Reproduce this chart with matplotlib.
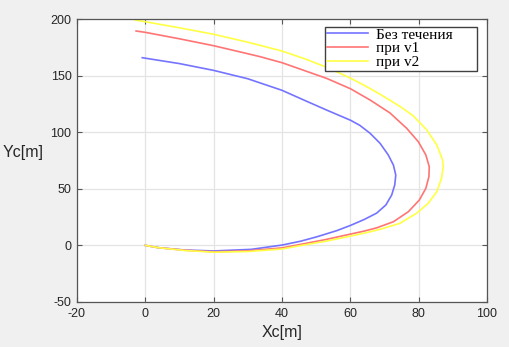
import numpy as np
import matplotlib
matplotlib.use("Agg")
import matplotlib.pyplot as plt
from matplotlib.patches import Rectangle

plt.rcParams["axes.unicode_minus"] = False

# trajectories (x, y in metres)
x_none = [0, 3.8, 11.6, 20, 31, 40, 45.3, 50.2, 56, 60, 64, 67.7, 70.4, 72.1, 73.0,
          73.3, 72.6, 71.1, 68.7, 65.8, 62.8, 60.1, 53.1, 46.7, 40, 30, 20, 10, -0.9]
y_none = [0, -2.0, -4.1, -4.9, -3.5, 0.3, 3.6, 7.6, 13.0, 17.6, 22.8, 28.5, 35.7, 44.5,
          53.4, 62.2, 71.0, 79.9, 90.2, 99.0, 106.0, 110.5, 119.5, 128.0, 137.0, 147.2,
          154.6, 160.6, 165.8]

x_v1 = [0, 3.8, 11.6, 20, 30, 40, 45.3, 53, 60.2, 64, 67.7, 72.6, 77.0, 80.2, 82.1,
        83.0, 83.1, 82.1, 79.9, 76.5, 71.6, 65.8, 60.1, 53.1, 46.7, 40, 33.6, 30, 20,
        10, 0, -2.7]
y_v1 = [0, -2.0, -4.3, -5.6, -4.8, -2.2, 0.8, 5.3, 10.1, 12.6, 15.5, 20.9, 29.8, 40.1,
        50.4, 60.7, 69.5, 79.9, 91.6, 103.4, 117.0, 128.4, 138.3, 147.5, 154.3, 161.4,
        166.7, 169.3, 176.4, 182.5, 188.2, 189.4]

x_v2 = [0, 3.8, 11.6, 20, 30, 40, 45.3, 53, 60.2, 64, 68.7, 74.5, 79.4, 82.8, 85.3,
        86.7, 87.2, 87.0, 85.3, 82.4, 78.4, 75, 72, 68, 64, 60, 56, 52.5, 46.7, 40,
        30, 20, 10, 0, -3.0]
y_v2 = [0, -2.0, -4.5, -6.0, -5.4, -3.2, -0.2, 3.8, 8.3, 10.8, 14.2, 19.5, 28.4, 37.2,
        47.4, 59.3, 69.5, 75.4, 88.7, 101.9, 114.5, 121.8, 127.5, 134.8, 141.5, 147.8,
        153.4, 158.0, 164.8, 171.7, 179.5, 186.5, 192.2, 197.6, 199.1]

labels = ["Без течения", "при v1", "при v2"]
colors = ["#7474ff", "#ff7474", "#ffff45"]

x_ticks = [-20, 0, 20, 40, 60, 80, 100]
y_ticks = [-50, 0, 50, 100, 150, 200]

W, H = 510, 347
fig = plt.figure(figsize=(W / 100, H / 100), dpi=100, facecolor="#f0f0f0")
ax = fig.add_axes([77 / W, 45 / H, 410 / W, 283 / H])
ax.set_facecolor("white")

for xs, ys, c, lab in zip([x_none, x_v1, x_v2], [y_none, y_v1, y_v2], colors, labels):
    ax.plot(xs, ys, color=c, lw=1.2, label=lab)

ax.set_xlim(-20, 100)
ax.set_ylim(-50, 200)
ax.set_xticks(x_ticks)
ax.set_yticks(y_ticks)
ax.grid(True, color="#e4e4e4", lw=0.9)
ax.set_axisbelow(True)
ax.tick_params(direction="in", length=3.5, top=True, right=True, colors="#555555",
               labelcolor="#262626", labelsize=9, pad=4)
for lbl in ax.get_xticklabels() + ax.get_yticklabels():
    lbl.set_family("Liberation Sans")
for s in ax.spines.values():
    s.set_color("#555555")
    s.set_linewidth(0.9)

fig.text(282 / W, 1 - 332 / H, "Xc[m]", ha="center", va="center",
         fontsize=11.5, family="Liberation Sans", color="#262626")
fig.text(44 / W, 1 - 152 / H, "Yc[m]", ha="right", va="center",
         fontsize=11.5, family="Liberation Sans", color="#262626")

# legend box (wider than its contents, as in the reference)
box = Rectangle((325 / W, 1 - 71 / H), 152 / W, 44 / H, transform=fig.transFigure,
                facecolor="white", edgecolor="#404040", lw=1.0, clip_on=False,
                zorder=4.5)
ax.add_patch(box)

leg = ax.legend(loc="upper left", bbox_to_anchor=(327 / W, 1 - 28 / H),
                bbox_transform=fig.transFigure, borderaxespad=0, frameon=False,
                prop={"family": "Liberation Serif", "size": 11},
                handlelength=2.7, handletextpad=0.5, labelspacing=0.0,
                borderpad=0.0)
leg.set_zorder(5)

fig.savefig("out.png", dpi=100, facecolor=fig.get_facecolor())
